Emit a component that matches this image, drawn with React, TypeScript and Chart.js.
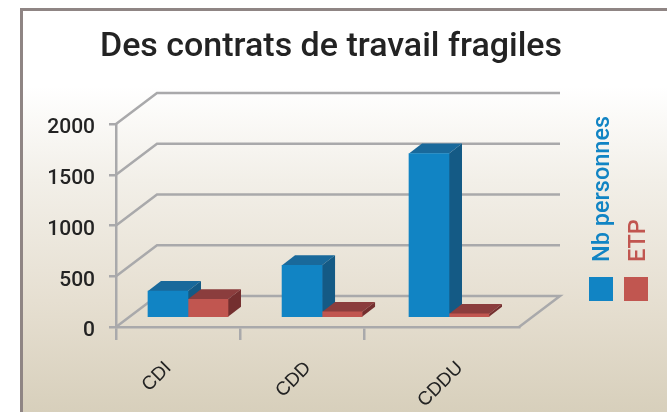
import React, { useEffect, useRef } from "react";
import { Chart, registerables } from "chart.js";

Chart.register(...registerables);

const TITLE = "Des contrats de travail fragiles";
const categories = ["CDI", "CDD", "CDDU"];
const seriesNames = ["Nb personnes", "ETP"];
const nbPersonnes = [265, 520, 1620];
const etp = [185, 60, 40];
// Where each category's group sits along the horizontal axis (axis units, 0..3)
const groupPositions = [0.454, 1.452, 2.397];
const labelPositions = [0.39, 1.43, 2.56];
const yTicks = [0, 500, 1000, 1500, 2000];

const FACE = ["#1184c4", "#c15650"];
const TOP = ["#19699b", "#8b3d3d"];
const SIDE = ["#145a85", "#742f2f"];
const GRID = "#a9a9ab";
const DEPTH_X = 41;
const DEPTH_Y = 31;
const BAR_SHIFT_X = 11;
const BAR_SHIFT_Y = -9;
const BAR_DEPTH_X = 13;
const BAR_DEPTH_Y = 10;
const FONT = "Roboto";

const wallsAndBars = {
  id: "wallsAndBars",
  beforeDatasetsDraw(chart: any) {
    const { ctx, scales, chartArea } = chart;
    const { left, right } = chartArea;
    ctx.save();
    ctx.strokeStyle = GRID;
    ctx.lineWidth = 2.5;
    ctx.lineJoin = "miter";
    yTicks.forEach((t) => {
      const y = scales.y.getPixelForValue(t);
      ctx.beginPath();
      ctx.moveTo(left, y);
      ctx.lineTo(left + DEPTH_X, y - DEPTH_Y);
      ctx.lineTo(right + DEPTH_X, y - DEPTH_Y);
      if (t === 0) ctx.lineTo(right, y);
      ctx.stroke();
    });
    ctx.restore();

    ctx.save();
    ctx.translate(BAR_SHIFT_X, BAR_SHIFT_Y);
    chart.data.datasets.forEach((_: any, di: number) => {
      chart.getDatasetMeta(di).data.forEach((bar: any) => {
        const x0 = bar.x - bar.width / 2;
        const x1 = bar.x + bar.width / 2;
        const yt = bar.y;
        const yb = bar.base;
        ctx.fillStyle = TOP[di];
        ctx.beginPath();
        ctx.moveTo(x0, yt);
        ctx.lineTo(x0 + BAR_DEPTH_X, yt - BAR_DEPTH_Y);
        ctx.lineTo(x1 + BAR_DEPTH_X, yt - BAR_DEPTH_Y);
        ctx.lineTo(x1, yt);
        ctx.closePath();
        ctx.fill();
        ctx.fillStyle = SIDE[di];
        ctx.beginPath();
        ctx.moveTo(x1, yt);
        ctx.lineTo(x1 + BAR_DEPTH_X, yt - BAR_DEPTH_Y);
        ctx.lineTo(x1 + BAR_DEPTH_X, yb - BAR_DEPTH_Y);
        ctx.lineTo(x1, yb);
        ctx.closePath();
        ctx.fill();
      });
    });
  },
  afterDatasetsDraw(chart: any) {
    chart.ctx.restore();
  },
};

const rotatedLegend = {
  id: "rotatedLegend",
  afterDraw(chart: any) {
    const { ctx } = chart;
    const squares = [589, 624];
    const baselines = [609, 645];
    ctx.save();
    chart.data.datasets.forEach((ds: any, i: number) => {
      ctx.fillStyle = FACE[i];
      ctx.fillRect(squares[i], 277, 24, 24);
      ctx.save();
      ctx.translate(baselines[i], 262);
      ctx.rotate(-Math.PI / 2);
      ctx.font = `500 23.5px ${FONT}`;
      ctx.textAlign = "left";
      ctx.textBaseline = "alphabetic";
      ctx.fillText(ds.label, 0, 0);
      ctx.restore();
    });
    ctx.restore();
  },
};

export default function App() {
  const ref = useRef<HTMLCanvasElement>(null);
  useEffect(() => {
    document.body.style.margin = "0";
    document.body.style.overflow = "hidden";
    const chart = new Chart(ref.current as HTMLCanvasElement, {
      type: "bar",
      data: {
        datasets: [
          {
            label: seriesNames[0],
            data: groupPositions.map((x, i) => ({ x, y: nbPersonnes[i] })),
            backgroundColor: FACE[0],
            barThickness: 40,
            clip: false,
            xAxisID: "x",
            yAxisID: "y",
          },
          {
            label: seriesNames[1],
            data: groupPositions.map((x, i) => ({ x, y: etp[i] })),
            backgroundColor: FACE[1],
            barThickness: 40,
            clip: false,
            xAxisID: "x",
            yAxisID: "y",
          },
        ],
      } as any,
      options: {
        animation: false,
        responsive: false,
        layout: { padding: { right: 5 } },
        plugins: {
          legend: { display: false },
          tooltip: { enabled: false },
          title: {
            display: true,
            text: TITLE,
            color: "#232323",
            font: { family: FONT, size: 34, weight: 500, lineHeight: 1.2 },
            padding: { top: 27, bottom: 56.2 },
          },
        },
        scales: {
          y: {
            min: 0,
            max: 2000,
            afterFit: (s: any) => {
              s.width = 116;
            },
            afterBuildTicks: (s: any) => {
              s.ticks = yTicks.map((value) => ({ value }));
            },
            border: { display: true, color: GRID, width: 2.5 },
            grid: { drawOnChartArea: false, color: GRID, lineWidth: 2.5, tickLength: 7 },
            ticks: {
              color: "#232323",
              padding: 14,
              labelOffset: 4,
              font: { family: FONT, size: 21, weight: 500 },
              callback: (v: any) => String(v),
            },
          },
          legendGutter: {
            type: "linear",
            position: "right",
            afterFit: (s: any) => {
              s.width = 143;
            },
            border: { display: false },
            grid: { display: false, drawOnChartArea: false },
            ticks: { display: false },
          },
          tickAxis: {
            type: "linear",
            position: "bottom",
            weight: 0,
            min: 0,
            max: 3.25,
            offset: false,
            afterFit: (s: any) => {
              s.height = 13;
              s.paddingLeft = 0;
              s.paddingRight = 0;
            },
            afterBuildTicks: (s: any) => {
              s.ticks = [0, 1, 2].map((value) => ({ value }));
            },
            border: { display: true, color: GRID, width: 2.5 },
            grid: { offset: false, drawOnChartArea: false, color: GRID, lineWidth: 2.5, tickLength: 13 },
            ticks: { display: false },
          },
          x: {
            type: "linear",
            position: "bottom",
            weight: 1,
            min: 0,
            max: 3,
            offset: false,
            afterFit: (s: any) => {
              s.height = 72;
              s.paddingLeft = 0;
              s.paddingRight = 0;
            },
            afterBuildTicks: (s: any) => {
              s.ticks = labelPositions.map((value) => ({ value }));
            },
            border: { display: false },
            grid: { offset: false, display: false, drawOnChartArea: false },
            ticks: {
              autoSkip: false,
              minRotation: 45,
              maxRotation: 45,
              padding: 9,
              color: "#232323",
              font: { family: "Liberation Sans", size: 19 },
              callback: (_v: any, i: number) => categories[i],
            },
          },
        },
      } as any,
      plugins: [wallsAndBars, rotatedLegend],
    });
    return () => chart.destroy();
  }, []);

  return (
    <div style={{ position: "absolute", left: 0, top: 0, width: 667, height: 412, overflow: "hidden", background: "#fff" }}>
      <div
        style={{
          position: "absolute",
          left: 20,
          top: 8,
          width: 660,
          height: 420,
          boxSizing: "border-box",
          borderLeft: "3px solid #8f8584",
          borderTop: "3px solid #8f8584",
          background:
            "linear-gradient(180deg, #ffffff 0px, #ffffff 75px, #f2efe8 170px, #e6dfd1 290px, #d7cfbb 404px)",
        }}
      />
      <canvas ref={ref} width={667} height={412} style={{ position: "absolute", left: 0, top: 0, display: "block" }} />
    </div>
  );
}
